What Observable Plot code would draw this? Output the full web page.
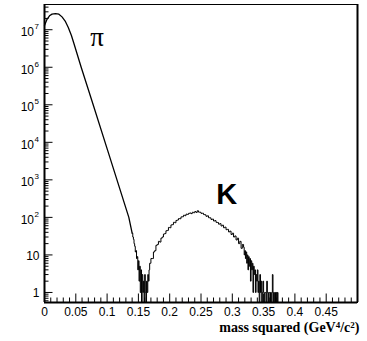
<!DOCTYPE html>
<html>
<head>
<meta charset="utf-8">
<script src="https://cdn.jsdelivr.net/npm/d3@7"></script>
<script src="https://cdn.jsdelivr.net/npm/@observablehq/plot@0.6"></script>
<style>
  html, body { margin: 0; padding: 0; background: #fff; }
  #chart svg { display: block; }
</style>
</head>
<body>
<div id="chart"></div>
<script>
// ---- Data ----
// pion peak: smooth part of the histogram (mass squared, counts)
const piMass   = [0, 0.004, 0.008, 0.012, 0.0175, 0.023, 0.028, 0.033, 0.038, 0.043, 0.047, 0.0586, 0.0756, 0.101, 0.1347, 0.140];
const piCounts = [1.3e7, 1.9e7, 2.35e7, 2.6e7, 2.7e7, 2.6e7, 2.2e7, 1.7e7, 1.15e7, 7.0e6, 4.3e6, 1.0e6, 1.3e5, 6.0e3, 100, 38];

// pion tail / gap: fine bins (width 0.001) from 0.140
const gapStart = 0.140, gapWidth = 0.001;
const gapCounts = [38, 30, 26, 20, 17, 12, 13, 8, 9, 4, 7, 2, 5, 1, 4, 0, 3, 1, 2, 0, 3, 1, 0, 2, 1, 3, 2, 4];

// kaon peak: bins (width 0.002) from 0.168
const kStart = 0.168, kWidth = 0.002;
const kCounts = [
  6, 8, 8, 12, 13, 18, 19, 23, 22, 28,
  30, 36, 37, 44, 45, 54, 53, 63, 64, 74,
  72, 83, 85, 93, 92, 103, 104, 114, 111, 122,
  120, 128, 131, 126, 137, 133, 143, 136, 150, 138,
  137, 128, 129, 119, 117, 107, 110, 98, 97, 88,
  90, 80, 82, 74, 73, 66, 68, 59, 62, 53,
  55, 47, 48, 41, 43, 35, 38, 30, 32, 25,
  28, 20, 23, 15, 19
];

// kaon tail: fine bins (width 0.001) from 0.318
const tailStart = 0.318, tailWidth = 0.001;
const tailCounts = [
  16, 10, 13, 8, 12, 6, 10, 4, 9, 5,
  8, 2, 7, 4, 6, 1, 5, 3, 4, 1,
  3, 2, 4, 1, 2, 0, 3, 1, 2, 0,
  1, 2, 1, 0, 1, 1, 0, 2, 1, 0,
  1, 1, 0, 1, 0, 1, 3, 0, 1, 0,
  1, 0, 1, 0, 1, 0
];

// axis ticks and labels
const xMajor = [0, 0.05, 0.1, 0.15, 0.2, 0.25, 0.3, 0.35, 0.4, 0.45];
const xTickLabels = ["0", "0.05", "0.1", "0.15", "0.2", "0.25", "0.3", "0.35", "0.4", "0.45"];
const yMajor = [1, 10, 1e2, 1e3, 1e4, 1e5, 1e6, 1e7];
const yTickBase = ["1", "10", "10", "10", "10", "10", "10", "10"];
const yTickExp  = ["", "", "2", "3", "4", "5", "6", "7"];
const xTitleParts = ["mass squared (GeV", "4", "/c", "2", ")"];
const xTitle = "mass squared (GeV4/c2)";

// peak annotations
const peakNames  = ["π", "K"];
const peakMass   = [0.0839, 0.2912];
const peakCounts = [6.3e6, 405];

// ---- Chart ----
const W = 367, H = 341;
const M = {top: 4, right: 10, bottom: 39, left: 44};
const plotW = W - M.left - M.right;
const plotH = H - M.top - M.bottom;
const xDomain = [0, 0.5];
const yDomain = [0.54, 4.7e7];

// minor ticks
const xMinor = d3.range(1, 50).map(k => k / 100).filter(v => Math.round(v * 100) % 5 !== 0);
const yMinor = [0.1, 1, 10, 1e2, 1e3, 1e4, 1e5, 1e6, 1e7]
  .flatMap(d => [2, 3, 4, 5, 6, 7, 8, 9].map(k => k * d))
  .filter(v => v > yDomain[0] && v < yDomain[1]);

const piData = piMass.map((m, i) => ({x: m, y: piCounts[i]}));
function binsOf(start, width, counts) {
  return counts.map((c, i) => ({x: start + i * width, y: c}));
}
const histData = [
  ...binsOf(gapStart, gapWidth, gapCounts),
  ...binsOf(kStart, kWidth, kCounts),
  ...binsOf(tailStart, tailWidth, tailCounts)
];
histData.push({x: tailStart + tailCounts.length * tailWidth, y: tailCounts[tailCounts.length - 1]});

const yLab = yMajor.map((v, i) => ({v, base: yTickBase[i], exp: yTickExp[i]}));
const peaks = peakNames.map((n, i) => ({n, x: peakMass[i], y: peakCounts[i]}));

const sans = "'Liberation Sans', Arial, Helvetica, sans-serif";
const serif = "'Liberation Serif', 'Times New Roman', serif";

const chart = Plot.plot({
  width: W, height: H,
  marginTop: M.top, marginRight: M.right, marginBottom: M.bottom, marginLeft: M.left,
  x: {domain: xDomain, axis: null},
  y: {type: "log", domain: yDomain, clamp: true, axis: null},
  style: {fontFamily: sans, fontSize: "12px", background: "#fff", color: "black"},
  marks: [
    // histogram
    Plot.line(piData, {x: "x", y: "y", stroke: "black", strokeWidth: 1.3}),
    Plot.line(histData, {x: "x", y: "y", curve: "step-after", stroke: "black", strokeWidth: 1}),
    // ticks (inward)
    Plot.tickY(yMajor, {y: d => d, insetRight: plotW - 8.5, stroke: "black"}),
    Plot.tickY(yMinor, {y: d => d, insetRight: plotW - 4.5, stroke: "black"}),
    Plot.tickX(xMajor, {x: d => d, insetTop: plotH - 8.5, stroke: "black"}),
    Plot.tickX(xMinor, {x: d => d, insetTop: plotH - 4.5, stroke: "black"}),
    // frame
    Plot.frame({stroke: "black", strokeWidth: 1}),
    Plot.ruleX(xDomain, {stroke: "black", strokeWidth: 2}),
    Plot.ruleY([yDomain[0]], {stroke: "black", strokeWidth: 2}),
    // x tick labels
    Plot.text(xMajor, {x: d => d, text: (d, i) => xTickLabels[i], frameAnchor: "bottom", dy: 10, lineAnchor: "middle", fontSize: 12, fill: "black"}),
    // y tick labels
    Plot.text(yLab, {filter: d => d.exp === "", y: "v", text: "base", frameAnchor: "left", textAnchor: "end", dx: -5, dy: 1, fontSize: 12, fill: "black"}),
    Plot.text(yLab, {filter: d => d.exp !== "", y: "v", text: "base", frameAnchor: "left", textAnchor: "end", dx: -10.5, dy: 2.5, fontSize: 12, fill: "black"}),
    Plot.text(yLab, {filter: d => d.exp !== "", y: "v", text: "exp", frameAnchor: "left", textAnchor: "end", dx: -5.5, dy: -3, fontSize: 8, fill: "black"}),
    // axis title (superscripts restored below)
    Plot.text([xTitle], {frameAnchor: "bottom-right", dx: 2, dy: 25, textAnchor: "end", lineAnchor: "middle", fontFamily: serif, fontWeight: "bold", fontSize: 14, fill: "black"}),
    // peak labels
    Plot.text(peaks, {filter: d => d.n === "π", x: "x", y: "y", text: "n", fontFamily: serif, fontSize: 27, fill: "black"}),
    Plot.text(peaks, {filter: d => d.n === "K", x: "x", y: "y", text: "n", fontFamily: sans, fontWeight: "bold", fontSize: 29, fill: "black"})
  ]
});

// axis title with real superscripts
d3.select(chart).selectAll("text")
  .filter(function () { return this.textContent === xTitle; })
  .each(function () {
    const t = d3.select(this);
    t.text(null);
    xTitleParts.forEach((part, i) => {
      const sup = i % 2 === 1;
      t.append("tspan")
        .attr("dy", i === 0 ? null : (sup ? "-4" : "4"))
        .attr("font-size", sup ? 9 : null)
        .text(part);
    });
  });

document.getElementById("chart").appendChild(chart);
</script>
</body>
</html>
